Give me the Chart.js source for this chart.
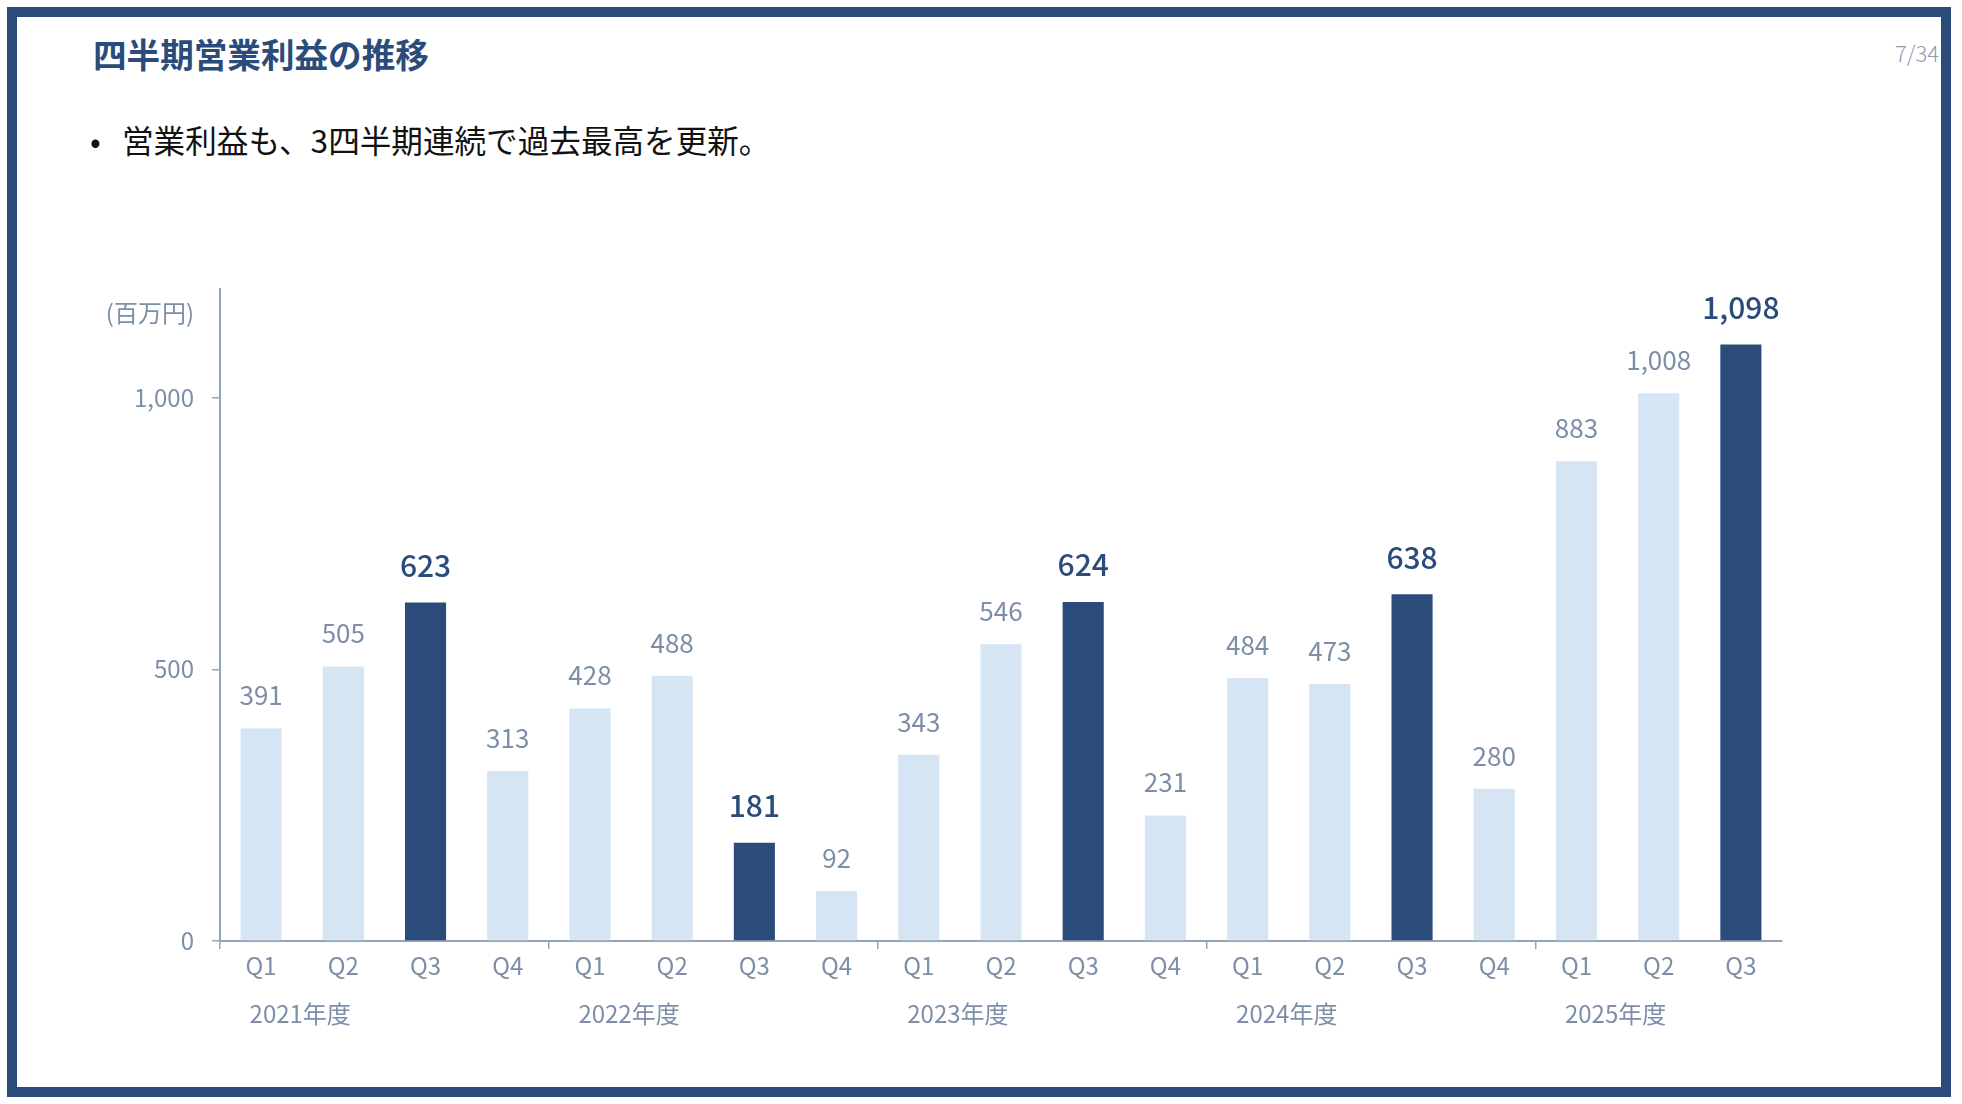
<!DOCTYPE html>
<html lang="ja">
<head>
<meta charset="utf-8">
<script src="https://cdn.jsdelivr.net/npm/chart.js@4.4.1/dist/chart.umd.min.js"></script>
<style>
  html, body { margin: 0; padding: 0; background: #ffffff; }
  body { width: 1962px; height: 1104px; position: relative; overflow: hidden;
         font-family: "Noto Sans CJK JP", "Noto Sans", sans-serif; }
  #frame { position: absolute; left: 7px; top: 7px; width: 1944px; height: 1090px;
           box-sizing: border-box; border: 10px solid #2b4c7a; }
  #title { position: absolute; left: 93px; top: 32px; font-size: 33.6px; font-weight: 700;
           color: #2b4c7a; line-height: 44px; white-space: nowrap; }
  #bullet { position: absolute; left: 90px; top: 117px; font-size: 31.6px; color: #111111;
            line-height: 44px; white-space: nowrap; }
  #bullet .dot { display: inline-block; width: 32px; }
  #page { position: absolute; right: 23px; top: 37px; font-size: 22px; font-weight: 300; color: #8a9ab3;
          line-height: 30px; }
  #chartWrap { position: absolute; left: 0; top: 0; width: 1962px; height: 1104px; }
</style>
</head>
<body>
<div id="frame"></div>
<div id="title">四半期営業利益の推移</div>
<div id="bullet"><span class="dot">•</span>営業利益も、3四半期連続で過去最高を更新。</div>
<div id="page">7/34</div>
<div id="chartWrap"><canvas id="c" width="1962" height="1104"></canvas></div>
<script>
// ---- data ----
const quarters = ["Q1","Q2","Q3","Q4","Q1","Q2","Q3","Q4","Q1","Q2","Q3","Q4","Q1","Q2","Q3","Q4","Q1","Q2","Q3"];
const fiscalYears = ["2021年度","2022年度","2023年度","2024年度","2025年度"];
const operatingProfit = [391,505,623,313,428,488,181,92,343,546,624,231,484,473,638,280,883,1008,1098];
const yTickValues = [0, 500, 1000];
const unitLabel = "(百万円)";

// ---- styles ----
const DARK = "#2b4c7a";
const LIGHT = "#d6e5f4";
const GREY = "#7d8fa8";
const AXIS = "#94a3b8";
const FONT = '"Noto Sans CJK JP", "Noto Sans", sans-serif';

const isQ3 = quarters.map(q => q === "Q3");

const overlayPlugin = {
  id: "overlay",
  afterDatasetsDraw(chart) {
    const ctx = chart.ctx;
    const x = chart.scales.x, y = chart.scales.y;
    const meta = chart.getDatasetMeta(0);
    ctx.save();
    ctx.textAlign = "center";
    ctx.textBaseline = "middle";
    meta.data.forEach((bar, i) => {
      const v = operatingProfit[i];
      const txt = v.toLocaleString("en-US");
      if (isQ3[i]) {
        ctx.font = "500 30px " + FONT;
        ctx.fillStyle = DARK;
        ctx.fillText(txt, bar.x, bar.y - 37);
      } else {
        ctx.font = "400 26px " + FONT;
        ctx.fillStyle = GREY;
        ctx.fillText(txt, bar.x, bar.y - 33);
      }
    });
    // fiscal year labels
    ctx.font = "400 24px " + FONT;
    ctx.fillStyle = GREY;
    fiscalYears.forEach((fy, g) => {
      const i0 = g * 4;
      const cx = (x.getPixelForValue(i0) + x.getPixelForValue(i0 + 1)) / 2;
      ctx.fillText(fy, cx - 2, y.getPixelForValue(0) + 73);
    });
    // unit label
    ctx.textAlign = "right";
    ctx.fillText(unitLabel, chart.chartArea.left - 26, chart.chartArea.top + 24);
    ctx.restore();
  }
};

new Chart(document.getElementById("c"), {
  type: "bar",
  data: {
    labels: quarters,
    datasets: [{
      data: operatingProfit,
      backgroundColor: isQ3.map(b => b ? DARK : LIGHT),
      borderWidth: 0,
      barPercentage: 0.5,
      categoryPercentage: 1.0
    }]
  },
  options: {
    responsive: false,
    animation: false,
    devicePixelRatio: 1,
    layout: { padding: { left: 100, right: 180, top: 289, bottom: 63 } },
    plugins: { legend: { display: false }, tooltip: { enabled: false }, title: { display: false } },
    scales: {
      x: {
        offset: true,
        grid: {
          offset: true,
          drawOnChartArea: false,
          drawTicks: true,
          tickLength: 8,
          lineWidth: 1.5,
          color: (c) => (c.index % 4 === 0 && c.index < quarters.length) ? AXIS : "rgba(0,0,0,0)"
        },
        border: { display: true, color: AXIS, width: 2 },
        ticks: { color: GREY, font: { family: FONT, size: 24 }, padding: 2, maxRotation: 0, autoSkip: false },
        afterFit(scale) { scale.height = 100; }
      },
      y: {
        min: 0,
        max: 1200,
        afterBuildTicks(scale) { scale.ticks = yTickValues.map(v => ({ value: v })); },
        grid: { drawOnChartArea: false, drawTicks: true, tickLength: 8, color: AXIS, lineWidth: 1.5 },
        border: { display: true, color: AXIS, width: 2 },
        ticks: {
          color: GREY,
          font: { family: FONT, size: 24 },
          padding: 18,
          callback: (v) => Number(v).toLocaleString("en-US")
        },
        afterFit(scale) { scale.width = 120; }
      }
    }
  },
  plugins: [overlayPlugin]
});
</script>
</body>
</html>
